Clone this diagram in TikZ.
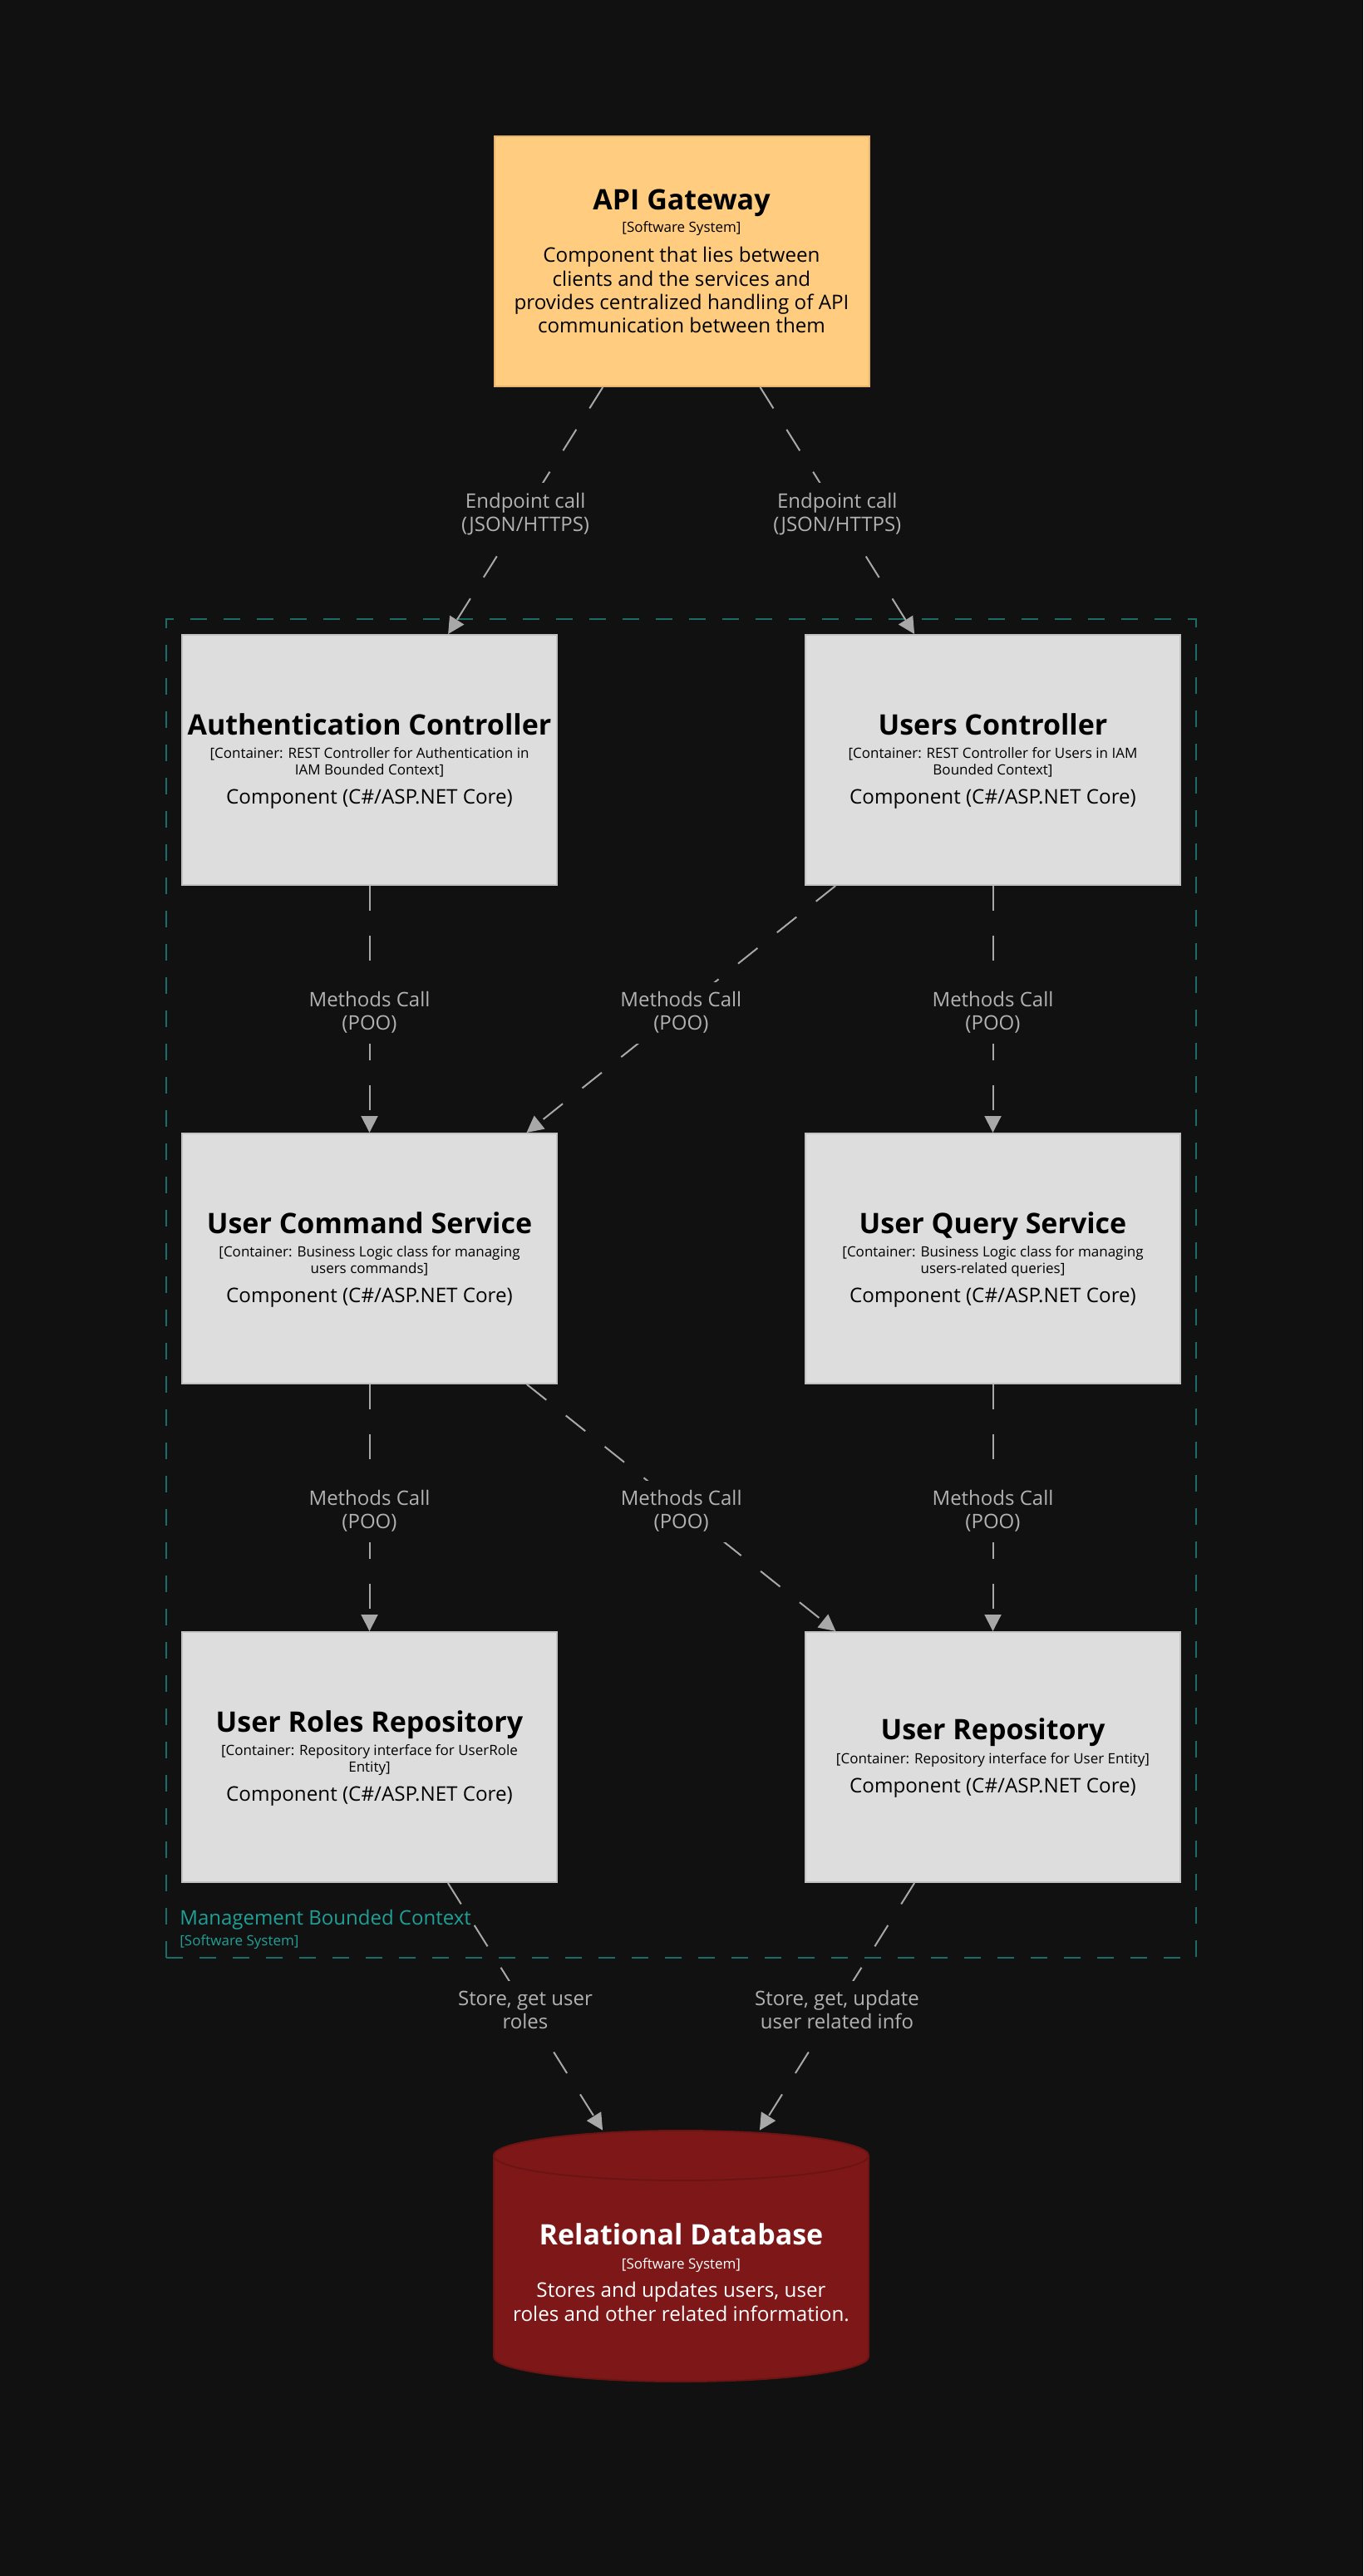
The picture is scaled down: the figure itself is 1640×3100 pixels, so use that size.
\documentclass[tikz,border=0pt]{standalone}
\usepackage{fontspec}
\setmainfont{Open Sans}
\usetikzlibrary{positioning, arrows.meta, calc}

\definecolor{bgdark}{HTML}{111111}
\definecolor{gwfill}{HTML}{FFCC80}
\definecolor{gwline}{HTML}{E6B46A}
\definecolor{compfill}{HTML}{DDDDDD}
\definecolor{compline}{HTML}{C2C2C2}
\definecolor{dbfill}{HTML}{7E1818}
\definecolor{dbline}{HTML}{6C1414}
\definecolor{bndline}{HTML}{1B6B66}
\definecolor{bndtext}{HTML}{1FA096}
\definecolor{relline}{HTML}{A8A8A8}
\definecolor{reltext}{HTML}{B2B2B2}

\begin{document}
\begin{tikzpicture}[x=0.5pt, y=-0.5pt,
    gateway/.style={rectangle, draw=gwline, line width=1pt, fill=gwfill,
                    minimum width=225.5pt, minimum height=150.5pt, inner sep=0pt},
    comp/.style={rectangle, draw=compline, line width=1pt, fill=compfill,
                 minimum width=225.5pt, minimum height=150.5pt, inner sep=0pt},
    dbbox/.style={rectangle, minimum width=225.5pt, minimum height=151pt, inner sep=0pt},
    boundary/.style={rectangle, draw=bndline, line width=1pt, dash pattern=on 10pt off 10pt,
                     minimum width=619.5pt, minimum height=805.5pt, inner sep=0pt},
    title/.style={font=\fontsize{17}{20}\selectfont\bfseries, anchor=base, inner sep=0pt},
    stereo/.style={font=\fontsize{8.5}{9.75}\selectfont, anchor=base, align=center, inner sep=0pt},
    descr/.style={font=\fontsize{12.1}{14.15}\selectfont, anchor=base, align=center, inner sep=0pt},
    rel/.style={draw=relline, line width=1pt, dash pattern=on 15pt off 15pt,
                -{Triangle[length=10pt, width=10pt]}},
    lbl/.style={font=\fontsize{12}{14}\selectfont, text=reltext, fill=bgdark, align=center,
                inner sep=6pt, yshift=-2pt}
]
    % Background
    \fill[bgdark] (0,0) rectangle (1640,3100);
    \useasboundingbox (0,0) rectangle (1640,3100);

    % Bounded context
    \node[boundary] (ctx) at (819.5,1550.5) {};
    \node[anchor=base west, inner sep=0pt, text=bndtext, font=\fontsize{12}{14}\selectfont] (ctx-t) at (216,2316) {Management Bounded Context};
    \node[anchor=base west, inner sep=0pt, text=bndtext, font=\fontsize{8.5}{10}\selectfont] (ctx-s) at (216,2341) {[Software System]};

    % API Gateway
    \node[gateway] (gw) at (820,314.5) {};
    \node[title] (gw-t) at (820,252) {API Gateway};
    \node[stereo] (gw-s) at (820,279) {[Software System]};
    \node[descr, anchor=north] (gw-d) at (820,297) {Component that lies between\\clients and the services and\\provides centralized handling of API\\communication between them};

    % Controllers
    \node[comp] (auth) at (444.5,914.5) {};
    \node[title] (auth-t) at ($(auth)+(0,-30)$) {Authentication Controller};
    \node[stereo, anchor=north] (auth-s) at ($(auth)+(0,-15)$) {[Container: REST Controller for Authentication in\\IAM Bounded Context]};
    \node[descr] (auth-d) at ($(auth)+(0,53)$) {Component (C\#/ASP.NET Core)};

    \node[comp] (users) at (1194.5,914.5) {};
    \node[title] (users-t) at ($(users)+(0,-30)$) {Users Controller};
    \node[stereo, anchor=north] (users-s) at ($(users)+(0,-15)$) {[Container: REST Controller for Users in IAM\\Bounded Context]};
    \node[descr] (users-d) at ($(users)+(0,53)$) {Component (C\#/ASP.NET Core)};

    % Services
    \node[comp] (ucs) at (444.5,1514.5) {};
    \node[title] (ucs-t) at ($(ucs)+(0,-30)$) {User Command Service};
    \node[stereo, anchor=north] (ucs-s) at ($(ucs)+(0,-15)$) {[Container: Business Logic class for managing\\users commands]};
    \node[descr] (ucs-d) at ($(ucs)+(0,53)$) {Component (C\#/ASP.NET Core)};

    \node[comp] (uqs) at (1194.5,1514.5) {};
    \node[title] (uqs-t) at ($(uqs)+(0,-30)$) {User Query Service};
    \node[stereo, anchor=north] (uqs-s) at ($(uqs)+(0,-15)$) {[Container: Business Logic class for managing\\users-related queries]};
    \node[descr] (uqs-d) at ($(uqs)+(0,53)$) {Component (C\#/ASP.NET Core)};

    % Repositories
    \node[comp] (urr) at (444.5,2114.5) {};
    \node[title] (urr-t) at ($(urr)+(0,-30)$) {User Roles Repository};
    \node[stereo, anchor=north] (urr-s) at ($(urr)+(0,-15)$) {[Container: Repository interface for UserRole\\Entity]};
    \node[descr] (urr-d) at ($(urr)+(0,53)$) {Component (C\#/ASP.NET Core)};

    \node[comp] (ur) at (1194.5,2114.5) {};
    \node[title] (ur-t) at ($(ur)+(0,-21)$) {User Repository};
    \node[stereo] (ur-s) at ($(ur)+(0,8)$) {[Container: Repository interface for User Entity]};
    \node[descr] (ur-d) at ($(ur)+(0,43)$) {Component (C\#/ASP.NET Core)};

    % Database
    \node[dbbox] (db) at (819.5,2715) {};
    \filldraw[fill=dbfill, draw=dbline, line width=1pt] (594,2594) -- (594,2836)
        arc[start angle=180, end angle=0, x radius=225.5, y radius=30] -- (1045,2594)
        arc[start angle=0, end angle=-180, x radius=225.5, y radius=30] -- cycle;
    \draw[dbline, line width=1pt] (594,2594) arc[start angle=180, end angle=0, x radius=225.5, y radius=30];
    \node[title, text=white] (db-t) at (819.5,2701) {Relational Database};
    \node[stereo, text=white] (db-s) at (819.5,2730) {[Software System]};
    \node[descr, text=white, anchor=north] (db-d) at (819.5,2746) {Stores and updates users, user\\roles and other related information.};

    % Relations
    \draw[rel] (gw) -- node[lbl] (l1) {Endpoint call\\(JSON/HTTPS)} (auth);
    \draw[rel] (gw) -- node[lbl] (l2) {Endpoint call\\(JSON/HTTPS)} (users);
    \draw[rel] (auth) -- node[lbl] (l3) {Methods Call\\(POO)} (ucs);
    \draw[rel] (users) -- node[lbl] (l4) {Methods Call\\(POO)} (ucs);
    \draw[rel] (users) -- node[lbl] (l5) {Methods Call\\(POO)} (uqs);
    \draw[rel] (ucs) -- node[lbl] (l6) {Methods Call\\(POO)} (urr);
    \draw[rel] (ucs) -- node[lbl] (l7) {Methods Call\\(POO)} (ur);
    \draw[rel] (uqs) -- node[lbl] (l8) {Methods Call\\(POO)} (ur);
    \draw[rel] (urr) -- node[lbl] (l9) {Store, get user\\roles} (db);
    \draw[rel] (ur) -- node[lbl] (l10) {Store, get, update\\user related info} (db);
\end{tikzpicture}
\end{document}
